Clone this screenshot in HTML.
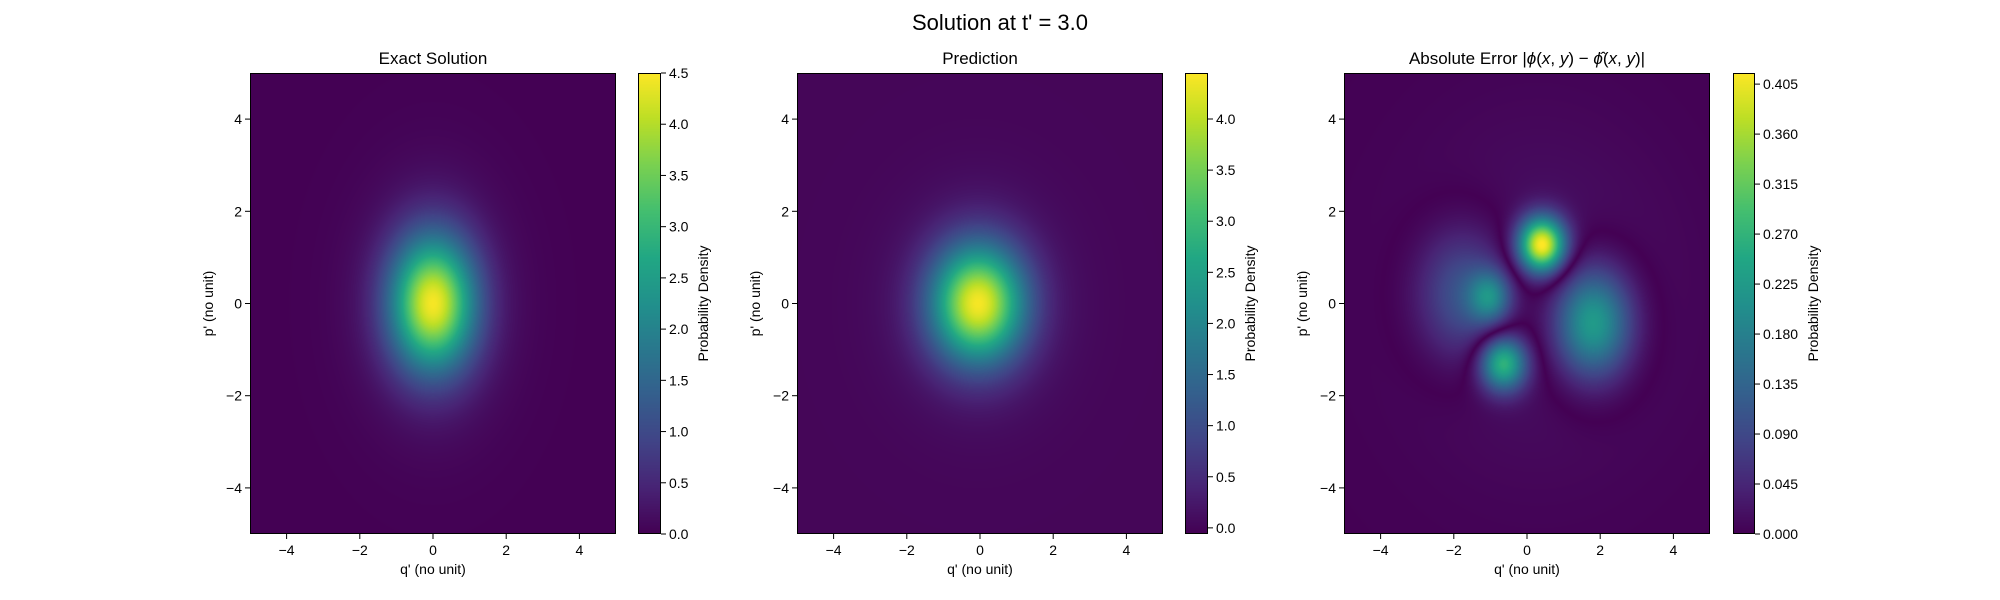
<!DOCTYPE html>
<html><head><meta charset="utf-8"><style>
body{margin:0;background:#fff;}
#root{position:relative;width:2000px;height:600px;overflow:hidden;font-family:"Liberation Sans","DejaVu Sans",sans-serif;}
canvas{position:absolute;}
svg{position:absolute;left:0;top:0;}
</style></head><body>
<div id="root">
<canvas id="h1" style="left:250px;top:73px" width="366" height="461"></canvas>
<canvas id="h2" style="left:797px;top:73px" width="366" height="461"></canvas>
<canvas id="h3" style="left:1344px;top:73px" width="366" height="461"></canvas>
<canvas id="c1" style="left:638px;top:73px" width="23" height="461"></canvas>
<canvas id="c2" style="left:1185px;top:73px" width="23" height="461"></canvas>
<canvas id="c3" style="left:1733px;top:73px" width="22" height="461"></canvas>
<svg id="ov" width="2000" height="600">
<text x="1000" y="30" text-anchor="middle" font-size="22">Solution at t' = 3.0</text>
</svg>
</div>
<script>
// ---- data ----
const xTicks=[-4,-2,0,2,4];
const yTicks=[-4,-2,0,2,4];
const exactBlobX=[0,0], exactBlobY=[0,0], exactBlobAmp=[4.0,0.45], exactBlobSx=[0.8,1.35], exactBlobSy=[1.0,1.75];
const predBlobX=[-0.05,-0.05], predBlobY=[0,0], predBlobAmp=[4.0,0.4], predBlobSx=[0.88,1.5], predBlobSy=[0.88,1.5];
const errBlobX=[0.41,-1.0,-1.7,-0.65,1.8,0.3];
const errBlobY=[1.27,0.14,0.2,-1.3,-0.42,0.2];
const errBlobAmp=[0.41,-0.15,-0.12,0.27,-0.24,0.02];
const errBlobSx=[0.45,0.4,0.9,0.45,0.75,2.6];
const errBlobSy=[0.42,0.4,1.0,0.42,0.85,2.6];
const cb1Ticks=[0,0.5,1,1.5,2,2.5,3,3.5,4,4.5];
const cb2Ticks=[0,0.5,1,1.5,2,2.5,3,3.5,4];
const cb3Ticks=[0,0.045,0.09,0.135,0.18,0.225,0.27,0.315,0.36,0.405];
const cb1Labels=["0.0","0.5","1.0","1.5","2.0","2.5","3.0","3.5","4.0","4.5"];
const cb2Labels=["0.0","0.5","1.0","1.5","2.0","2.5","3.0","3.5","4.0"];
const cb3Labels=["0.000","0.045","0.090","0.135","0.180","0.225","0.270","0.315","0.360","0.405"];
const vRanges=[[0,4.5],[-0.06,4.45],[0,0.415]];

const vir=[[68,1,84],[72,36,117],[65,68,135],[53,95,141],[42,120,142],[33,145,140],[34,168,132],[68,191,112],[122,209,81],[189,223,38],[253,231,37]];
function cmap(t){t=Math.max(0,Math.min(1,t));const f=t*10,i=Math.min(9,Math.floor(f)),u=f-i;const a=vir[i],b=vir[i+1];return [a[0]+(b[0]-a[0])*u,a[1]+(b[1]-a[1])*u,a[2]+(b[2]-a[2])*u];}
function field(X,Y,A,SX,SY,x,y){let s=0;for(let k=0;k<X.length;k++){const dx=(x-X[k])/SX[k],dy=(y-Y[k])/SY[k];s+=A[k]*Math.exp(-0.5*(dx*dx+dy*dy));}return s;}
const W=366,H=461;
function xs(v){return (v+5)/10*W;} function ys(v){return (5-v)/10*H;}
function drawHeat(id,fn,rng){const c=document.getElementById(id),ctx=c.getContext('2d'),im=ctx.createImageData(W,H);
 for(let j=0;j<H;j++){const y=5-(j+0.5)/H*10;for(let i=0;i<W;i++){const x=-5+(i+0.5)/W*10;const v=fn(x,y);const col=cmap((v-rng[0])/(rng[1]-rng[0]));const p=(j*W+i)*4;im.data[p]=col[0];im.data[p+1]=col[1];im.data[p+2]=col[2];im.data[p+3]=255;}}
 ctx.putImageData(im,0,0);}
drawHeat('h1',(x,y)=>field(exactBlobX,exactBlobY,exactBlobAmp,exactBlobSx,exactBlobSy,x,y),vRanges[0]);
drawHeat('h2',(x,y)=>field(predBlobX,predBlobY,predBlobAmp,predBlobSx,predBlobSy,x,y),vRanges[1]);
drawHeat('h3',(x,y)=>Math.abs(field(errBlobX,errBlobY,errBlobAmp,errBlobSx,errBlobSy,x,y)),vRanges[2]);
['c1','c2','c3'].forEach(id=>{const c=document.getElementById(id),ctx=c.getContext('2d');for(let j=0;j<H;j++){const col=cmap(1-(j+0.5)/H);ctx.fillStyle=`rgb(${col[0]|0},${col[1]|0},${col[2]|0})`;ctx.fillRect(0,j,c.width,1);}});

const NS='http://www.w3.org/2000/svg',ov=document.getElementById('ov');
function el(tag,attrs,txt){const e=document.createElementNS(NS,tag);for(const k in attrs)e.setAttribute(k,attrs[k]);if(txt!==undefined)e.textContent=txt;ov.appendChild(e);return e;}
const panels=[{L:250,t:'Exact Solution'},{L:797,t:'Prediction'},{L:1344,t:null}];
const T=73;
panels.forEach((p,pi)=>{
 const r=el('rect',{x:p.L+0.5,y:T+0.5,width:W-1,height:H-1,fill:'none',stroke:'#000','stroke-width':1});
 
 xTicks.forEach(v=>{const X=p.L+xs(v);
  const l=el('line',{x1:X,x2:X,y1:T+H,y2:T+H+5,stroke:'#000'});
  const t=el('text',{x:X,y:T+H+21,'text-anchor':'middle','font-size':14},v<0?'\u2212'+(-v):String(v));});
 yTicks.forEach(v=>{const Y=T+ys(v);
  const l=el('line',{x1:p.L-5,x2:p.L,y1:Y,y2:Y,stroke:'#000'});
  const t=el('text',{x:p.L-8,y:Y+5,'text-anchor':'end','font-size':14},v<0?'\u2212'+(-v):String(v));});
 const xl=el('text',{x:p.L+W/2,y:574,'text-anchor':'middle','font-size':14},"q' (no unit)");
 const yl=el('text',{x:0,y:0,'text-anchor':'middle','font-size':14,transform:`translate(${p.L-37},${T+H/2}) rotate(-90)`},"p' (no unit)");
 if(p.t){const tt=el('text',{x:p.L+W/2,y:64,'text-anchor':'middle','font-size':17},p.t);}
});
const t3=el('text',{x:1344+W/2,y:64,'text-anchor':'middle','font-size':17});

t3.innerHTML='Absolute Error |<tspan font-style="italic">\u03d5</tspan>(<tspan font-style="italic">x</tspan>, <tspan font-style="italic">y</tspan>) \u2212 <tspan font-style="italic">\u03d5\u0302</tspan>(<tspan font-style="italic">x</tspan>, <tspan font-style="italic">y</tspan>)|';
const cbs=[{L:638,w:23,ticks:cb1Ticks,labels:cb1Labels,r:vRanges[0]},{L:1185,w:23,ticks:cb2Ticks,labels:cb2Labels,r:vRanges[1]},{L:1733,w:22,ticks:cb3Ticks,labels:cb3Labels,r:vRanges[2]}];
cbs.forEach(c=>{
 const r=el('rect',{x:c.L+0.5,y:T+0.5,width:c.w-1,height:H-1,fill:'none',stroke:'#000'});
 const R=c.L+c.w;
 c.ticks.forEach((v,i)=>{const Y=T+H-(v-c.r[0])/(c.r[1]-c.r[0])*H;
  const l=el('line',{x1:R,x2:R+5,y1:Y,y2:Y,stroke:'#000'});
  const t=el('text',{x:R+8,y:Y+5,'font-size':14},c.labels[i]);});
 const lab=el('text',{x:0,y:0,'text-anchor':'middle','font-size':14,transform:`translate(${R+c.labels[0].length*8+18+5},${T+H/2}) rotate(-90)`},'Probability Density');
 
});
</script>
</body></html>
